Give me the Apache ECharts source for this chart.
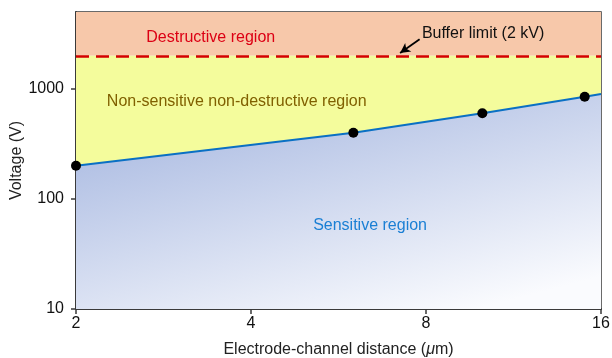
<!DOCTYPE html>
<html>
<head>
<meta charset="utf-8">
<script src="https://cdn.jsdelivr.net/npm/echarts@6/dist/echarts.min.js"></script>
<style>html,body{margin:0;padding:0;background:#fff}#c{width:612px;height:358px}</style>
</head>
<body>
<div id="c"></div>
<script>
// Data
var distances = [2, 6, 10, 15];          // µm (measured points)
var voltages = [200, 400, 600, 850];     // V
var lineEnd = [16, 900];                 // line continues to the right edge
var bufferLimit = 2000;                  // V
var xTicks = [2, 4, 8, 16];
var yTicks = [10, 100, 1000];
var yMin = 10, yMax = 5000, xMin = 2, xMax = 16;

var lineData = distances.map(function (d, i) { return [d, voltages[i]]; }).concat([lineEnd]);
var pointData = distances.map(function (d, i) { return [d, voltages[i]]; });

var font = 'Liberation Sans, Arial, sans-serif';
var chart = echarts.init(document.getElementById('c'), null, {renderer: 'canvas'});
chart.setOption({
  animation: false,
  textStyle: {fontFamily: font},
  grid: {left: 76, right: 11, top: 12, bottom: 49, show: true, borderColor: '#3a3a3a', borderWidth: 1.5,
         containLabel: false, outerBoundsMode: 'none'},
  xAxis: {
    type: 'log', logBase: 2, min: xMin, max: xMax, interval: 1,
    name: 'Electrode-channel distance ({i|μ}m)',
    nameLocation: 'middle', nameGap: 33, nameMoveOverlap: false,
    nameTextStyle: {fontSize: 16, color: '#222', fontFamily: font, rich: {i: {fontStyle: 'italic', fontSize: 16, color: '#222', fontFamily: font}}},
    axisLine: {lineStyle: {color: '#3a3a3a', width: 2}},
    axisTick: {show: true, length: 5, lineStyle: {color: '#3a3a3a', width: 1.5}, customValues: xTicks},
    axisLabel: {fontSize: 16, color: '#111', margin: 7, customValues: xTicks},
    splitLine: {show: false}
  },
  yAxis: {
    type: 'log', logBase: 10, min: yMin, max: yMax, interval: 1,
    name: 'Voltage (V)', nameLocation: 'middle', nameGap: 51, nameMoveOverlap: false,
    nameTextStyle: {fontSize: 16, color: '#222', fontFamily: font},
    axisLine: {lineStyle: {color: '#3a3a3a', width: 2}},
    axisTick: {show: true, length: 5, lineStyle: {color: '#3a3a3a', width: 1.5}, customValues: yTicks},
    axisLabel: {fontSize: 16, color: '#111', margin: 12, customValues: yTicks,
      formatter: function (v) { return yTicks.indexOf(Math.round(v)) >= 0 ? String(Math.round(v)) : ''; }},
    splitLine: {show: false}
  },
  series: [
    {
      type: 'line', data: [], z: 1, silent: true,
      markArea: {
        silent: true,
        data: [
          [{yAxis: bufferLimit, itemStyle: {color: '#f7c8aa'}}, {yAxis: yMax}],
          [{yAxis: yMin, itemStyle: {color: '#f4fc9c'}}, {yAxis: bufferLimit}]
        ]
      }
    },
    {
      type: 'line', data: lineData, z: 2, symbol: 'none', smooth: false,
      lineStyle: {color: '#0a70c4', width: 2},
      areaStyle: {
        origin: yMin, opacity: 1,
        color: new echarts.graphic.LinearGradient(0, 0.12, 0.137, 1.4, [
          {offset: 0, color: '#a6b7e0'},
          {offset: 1, color: '#fafbfe'}
        ])
      }
    },
    {
      type: 'scatter', data: pointData, z: 5, symbol: 'circle', symbolSize: 10,
      itemStyle: {color: '#000', opacity: 1}
    },
    {
      type: 'line', data: [], z: 6, silent: true,
      markLine: {
        silent: true, symbol: ['none', 'none'],
        label: {show: false},
        lineStyle: {color: '#d40000', width: 2.5, type: [13, 7]},
        data: [{yAxis: bufferLimit}]
      }
    },
    {
      type: 'line', data: [], z: 7, silent: true,
      markLine: {
        silent: true, symbol: ['none', 'arrow'], symbolSize: [8, 10],
        label: {show: false},
        lineStyle: {color: '#000', width: 1.8, type: 'solid'},
        data: [[{coord: [7.8, 2830]}, {coord: [7.22, 2120]}]]
      },
      markPoint: {
        silent: true, symbol: 'circle', symbolSize: 0,
        label: {show: true, position: 'inside', fontSize: 16, fontFamily: font},
        data: [
          {coord: [3.41, 2955], label: {formatter: 'Destructive region', color: '#dc0014'}},
          {coord: [10.03, 3212], label: {formatter: 'Buffer limit (2 kV)', color: '#111'}},
          {coord: [3.78, 770], label: {formatter: 'Non-sensitive non-destructive region', color: '#806000'}},
          {coord: [6.41, 57], label: {formatter: 'Sensitive region', color: '#1a7fd4'}}
        ]
      }
    }
  ]
});
</script>
</body>
</html>
